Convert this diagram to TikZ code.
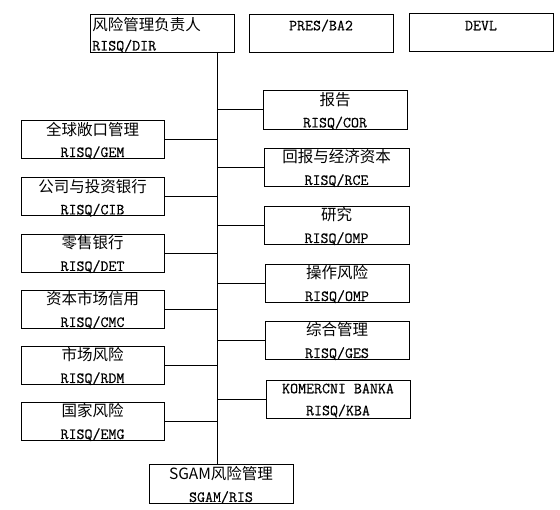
\documentclass[tikz,border=0pt]{standalone}
\usepackage{fontspec}
\newfontfamily\cjkfont{Noto Sans CJK SC}
\newfontfamily\latfont{Latin Modern Mono}[FakeBold=0.4]
\newcommand\zh[1]{{\cjkfont\fontsize{15.5}{22}\selectfont #1}}
\newcommand\orgbox[4]{%
  \node[box,#2] (#1) at (#3) {};
  \node[txt] (#1t) at ([yshift=-1.5pt]#1.center) {#4};}
\begin{document}
\begin{tikzpicture}[x=1pt,y=-1pt,
  box/.style={draw, line width=0.8pt, inner sep=0pt,
    minimum width=144pt, minimum height=38pt},
  txt/.style={inner sep=0pt, align=center,
    font=\latfont\fontsize{15.5}{22}\selectfont},
  conn/.style={line width=0.8pt}]
\useasboundingbox (0,0) rectangle (560,510);
% top row
\node[box] (dir) at (162,33) {};
\node[txt, align=left, anchor=west, font=\latfont\fontsize{15.5}{20}\selectfont] (dirt) at ([xshift=2.5pt,yshift=-2pt]dir.west) {\zh{风险管理负责人}\\RISQ/DIR};
\node[box] (pres) at (321,33) {};
\node[txt] (prest) at ([yshift=-12pt]pres.north) {PRES/BA2};
\node[box] (devl) at (481,32) {};
\node[txt] (devlt) at ([yshift=-13pt]devl.north) {DEVL};
% left column
\orgbox{gem}{minimum width=143pt}{92.5,139}{\zh{全球敞口管理}\\RISQ/GEM}
\orgbox{cib}{minimum width=143pt}{92.5,196.5}{\zh{公司与投资银行}\\RISQ/CIB}
\orgbox{det}{minimum width=143pt}{92.5,253}{\zh{零售银行}\\RISQ/DET}
\orgbox{cmc}{minimum width=143pt}{92.5,309}{\zh{资本市场信用}\\RISQ/CMC}
\orgbox{rdm}{minimum width=143pt}{92.5,365}{\zh{市场风险}\\RISQ/RDM}
\orgbox{emg}{minimum width=143pt}{92.5,421}{\zh{国家风险}\\RISQ/EMG}
% right column
\orgbox{cor}{minimum height=39pt}{335,109.5}{\zh{报告}\\RISQ/COR}
\orgbox{rce}{minimum width=145pt}{336.5,167}{\zh{回报与经济资本}\\RISQ/RCE}
\orgbox{res}{minimum width=145pt}{336.5,225}{\zh{研究}\\RISQ/OMP}
\orgbox{ops}{}{337,283}{\zh{操作风险}\\RISQ/OMP}
\orgbox{ges}{}{337,340}{\zh{综合管理}\\RISQ/GES}
\orgbox{kba}{}{338,399}{KOMERCNI BANKA\\RISQ/KBA}
% bottom
\orgbox{sgam}{minimum height=39pt}{221,483.5}{\zh{SGAM风险管理}\\SGAM/RIS}
% trunk
\coordinate (ttop) at (217,52);
\coordinate (tbot) at (217,464);
\draw[conn] (ttop) -- (tbot);
\foreach \n in {gem,cib,det,cmc,rdm,emg}
  \draw[conn] (\n.east) -- (\n.east -| ttop);
\foreach \n in {cor,rce,res,ops,ges,kba}
  \draw[conn] (\n.west) -- (\n.west -| ttop);
\end{tikzpicture}
\end{document}
